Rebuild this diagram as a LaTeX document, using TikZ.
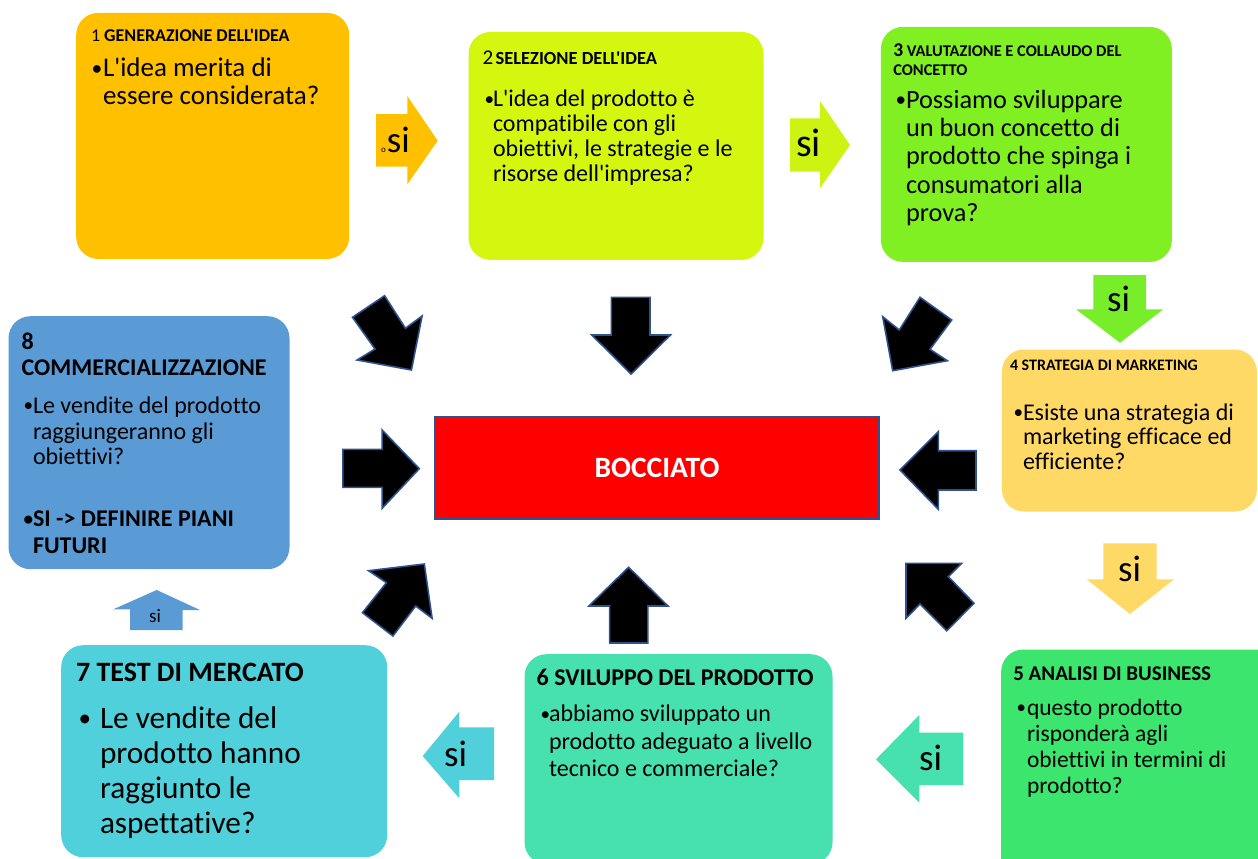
\documentclass[tikz,border=0pt]{standalone}
\usepackage{graphicx}
\usepackage{fontspec}
\setmainfont{Carlito}[Ligatures={TeXOff,CommonOff}]
\definecolor{cone}{HTML}{FFC000}
\definecolor{ctwo}{HTML}{D5F70F}
\definecolor{cthree}{HTML}{80F022}
\definecolor{cfour}{HTML}{FFD966}
\definecolor{cfive}{HTML}{3BE56E}
\definecolor{csix}{HTML}{46E1AE}
\definecolor{cseven}{HTML}{4FD0DA}
\definecolor{ceight}{HTML}{5B9BD5}
\definecolor{bord}{HTML}{2F528F}
\definecolor{limearr}{HTML}{CDF312}
\definecolor{greenarr}{HTML}{78EE2A}
\newcommand\bitem[2]{\hangindent=#1\hangafter=1\noindent\makebox[#1][l]{\hspace{2.5pt}\raisebox{0.06em}{\scalebox{0.8}{•}}}#2}
\newcommand\fs[2]{\fontsize{#1}{#2}\selectfont}
\tikzset{
  box/.style={rounded corners=22pt, inner sep=0pt, anchor=north west},
  blk/.style={fill=black, draw=bord, line width=1.6pt, line join=miter},
  txt/.style={anchor=base west, inner sep=0pt, outer sep=0pt},
  sitxt/.style={anchor=base west, inner sep=0pt, font=\fs{37}{40}},
}
\begin{document}
\begin{tikzpicture}[x=1pt,y=-1pt]
\useasboundingbox (0,0) rectangle (1258,859);
\clip (0,0) rectangle (1258,859);
% boxes
\node[box, fill=cone, minimum width=273pt, minimum height=246pt] (b1) at (76,12.7) {};
\node[box, fill=ctwo, minimum width=295pt, minimum height=228pt] (b2) at (468.3,31.7) {};
\node[box, fill=cthree, minimum width=291pt, minimum height=235pt] (b3) at (880.7,26.7) {};
\node[box, fill=cfour, minimum width=255pt, minimum height=162pt] (b4) at (1001.7,349.3) {};
\node[box, fill=cfive, minimum width=290pt, minimum height=240pt] (b5) at (1001,649.3) {};
\node[box, fill=csix, minimum width=308pt, minimum height=210pt] (b6) at (524.3,654) {};
\node[box, fill=cseven, minimum width=326pt, minimum height=212pt] (b7) at (61,645) {};
\node[box, fill=ceight, minimum width=281pt, minimum height=253pt] (b8) at (8.3,316) {};
% rejected
\node[fill=red, draw=bord, line width=1.6pt, minimum width=444pt, minimum height=102pt, inner sep=0pt,
      text=white, font=\fs{29.5}{31}\bfseries] (rej) at (657,468) {BOCCIATO};
% texts
\node[txt] (t1) at (91,41.7) {\fs{18}{20}1 \textbf{GENERAZIONE DELL'IDEA}};
\node[txt] (q1) at (89,77) {\parbox[t]{250pt}{\fs{27}{27.6}\bitem{14pt}{L'idea merita di\\essere considerata?}}};
\node[txt] (t2) at (482.7,65) {{\fs{21}{24}2} {\fs{18.5}{20}\bfseries SELEZIONE DELL'IDEA}};
\node[txt] (q2) at (482,106.7) {\parbox[t]{280pt}{\fs{24}{25}\bitem{11pt}{L'idea del prodotto è\\compatibile con gli\\obiettivi, le strategie e le\\risorse dell'impresa?}}};
\node[txt] (t3) at (893.3,56.7) {\parbox[t]{280pt}{\fs{16.4}{18.3}\bfseries{\fs{19.5}{18.3}3} VALUTAZIONE E COLLAUDO DEL\\CONCETTO}};
\node[txt] (q3) at (893,108.3) {\parbox[t]{280pt}{\fs{26.3}{28.3}\bitem{13pt}{Possiamo sviluppare\\un buon concetto di\\prodotto che spinga i\\consumatori alla\\prova?}}};
\node[txt] (t4) at (1010,370.7) {\fs{16}{18}\bfseries 4 STRATEGIA DI MARKETING};
\node[txt] (q4) at (1011,420) {\parbox[t]{250pt}{\fs{24}{24.5}\bitem{12pt}{Esiste una strategia di\\marketing efficace ed\\efficiente?}}};
\node[txt] (t5) at (1013.3,680) {\fs{21}{22}\bfseries 5 ANALISI DI BUSINESS};
\node[txt] (q5) at (1014,715) {\parbox[t]{250pt}{\fs{23.5}{26}\bitem{13pt}{questo prodotto\\risponderà agli\\obiettivi in termini di\\prodotto?}}};
\node[txt] (t6) at (536.7,685) {\fs{24}{25}\bfseries 6 SVILUPPO DEL PRODOTTO};
\node[txt] (q6) at (538,721.7) {\parbox[t]{300pt}{\fs{24}{27.5}\bitem{11pt}{abbiamo sviluppato un\\prodotto adeguato a livello\\tecnico e commerciale?}}};
\node[txt] (t7) at (76,681.7) {\fs{28}{30}\bfseries 7 TEST DI MERCATO};
\node[txt] (q7) at (76,728.3) {\parbox[t]{300pt}{\fs{31.3}{35}\bitem{24pt}{Le vendite del\\prodotto hanno\\raggiunto le\\aspettative?}}};
\node[txt] (t8) at (21.7,349.3) {\parbox[t]{270pt}{\fs{24}{25.7}\bfseries 8\\COMMERCIALIZZAZIONE}};
\node[txt] (q8) at (21,413.3) {\parbox[t]{270pt}{\fs{24}{25.8}\bitem{12pt}{Le vendite del prodotto\\raggiungeranno gli\\obiettivi?}}};
\node[txt] (r8) at (21,526.7) {\parbox[t]{270pt}{\fs{24}{26.6}\bfseries\bitem{12pt}{SI -> DEFINIRE PIANI\\FUTURI}}};
% black arrows towards BOCCIATO
\draw[blk] (384.6,295.7) -- (405.4,328.3) -- (422.1,316) -- (411.4,370) -- (357.1,360) -- (375,349) -- (352.5,317.3) -- cycle;
\draw[blk] (611.4,297.3) -- (650,297.3) -- (650,335) -- (670.4,335) -- (631.1,374) -- (591.8,335) -- (611.4,335) -- cycle;
\draw[blk] (342.9,449.3) -- (382.1,449.3) -- (382.1,430) -- (419.3,468.7) -- (382.1,508.3) -- (382.1,487.3) -- (342.9,487.3) -- cycle;
\draw[blk] (368.6,570.7) -- (424.3,564) -- (432.1,618.3) -- (415.7,606) -- (392.9,636) -- (362.5,612.7) -- (386.4,582.7) -- cycle;
\draw[blk] (628.6,567.3) -- (667.9,606) -- (647.9,606) -- (647.9,643) -- (609.6,643) -- (609.6,606) -- (588.9,606) -- cycle;
\draw[blk] (900,470) -- (938.3,431.7) -- (938.3,450.7) -- (976,450.7) -- (976,490) -- (938.3,490) -- (938.3,509.3) -- cycle;
\draw[blk] (892.7,370.7) -- (882.7,316.7) -- (899.3,330) -- (920,297.3) -- (951.7,320) -- (930,349.3) -- (947.3,360.7) -- cycle;
\draw[blk] (906,563.3) -- (961.7,563.3) -- (948.3,576.7) -- (974,603.3) -- (946.7,630.7) -- (920,604) -- (906,618.3) -- cycle;
% "si" arrows
\fill[cone] (376,114) -- (407.3,114) -- (407.3,96) -- (437.7,140.7) -- (407.3,184.3) -- (407.3,166.7) -- (376,166.7) -- cycle;
\fill[limearr] (790,118.3) -- (820,118.3) -- (820,101) -- (850,145) -- (820,188.3) -- (820,171.7) -- (790,171.7) -- cycle;
\fill[greenarr] (1093.3,275) -- (1146,275) -- (1146,309.3) -- (1163.3,309.3) -- (1120,342.7) -- (1076,309.3) -- (1093.3,309.3) -- cycle;
\fill[cfour] (1103.3,543.3) -- (1156.7,543.3) -- (1156.7,579.3) -- (1174,579.3) -- (1130,614) -- (1086.7,579.3) -- (1103.3,579.3) -- cycle;
\fill[csix] (876,759.3) -- (919.3,715) -- (919.3,732.7) -- (963.3,732.7) -- (963.3,785) -- (919.3,785) -- (919.3,802.7) -- cycle;
\fill[cseven] (422.7,756) -- (459.3,711.7) -- (459.3,727.3) -- (494,727.3) -- (494,780) -- (459.3,780) -- (459.3,798.3) -- cycle;
\fill[ceight] (113.3,609.3) -- (156.7,590) -- (200,610) -- (182.7,610) -- (182.7,630) -- (130,630) -- (130,609.3) -- cycle;
\node[sitxt] (s1) at (381,152.3) {{\fs{9}{9}o}\hspace{1pt}si};
\node[sitxt, font=\fs{40}{42}] (s2) at (796,156.7) {si};
\node[sitxt] (s3) at (1107,311) {si};
\node[sitxt] (s4) at (1118,581.7) {si};
\node[sitxt] (s5) at (919,770) {si};
\node[sitxt] (s6) at (444,766.7) {si};
\node[sitxt, font=\fs{19}{20}] (s7) at (149,622.7) {si};
\end{tikzpicture}
\end{document}
